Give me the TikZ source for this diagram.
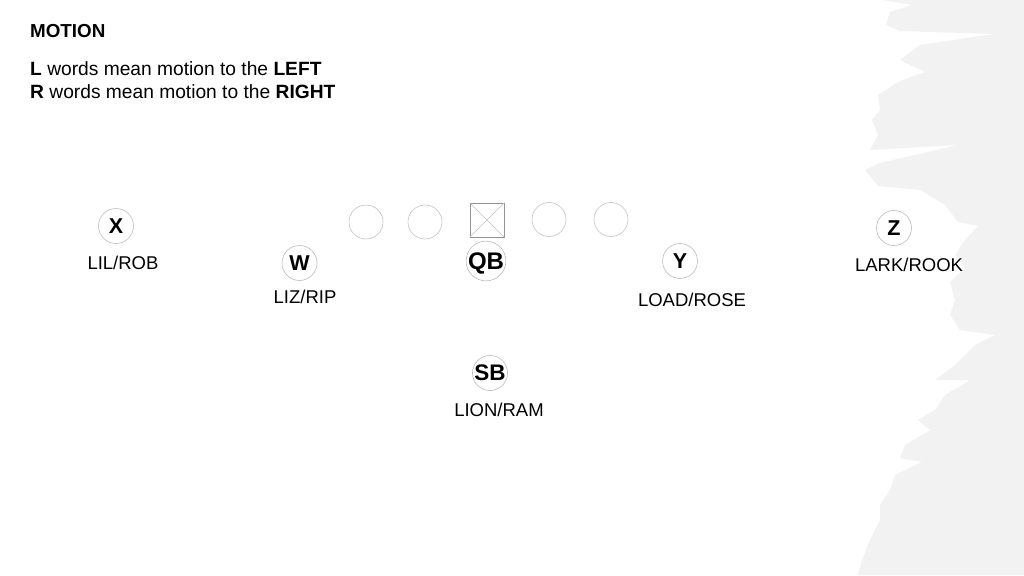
\documentclass[tikz,border=0pt]{standalone}
\usepackage{fontspec}
\setmainfont{Liberation Sans}
\definecolor{brush}{HTML}{F2F2F2}
\definecolor{ring}{HTML}{BDBDBD}
\definecolor{linering}{HTML}{C4C4C4}
\begin{document}
\begin{tikzpicture}[x=1pt,y=-1pt,
  player/.style={circle, draw=ring, line width=0.6pt, minimum size=35pt, inner sep=0pt, font=\bfseries\fontsize{21.5}{21.5}\selectfont},
  lineman/.style={circle, draw=linering, line width=0.6pt, minimum size=34pt, inner sep=0pt},
  centerbox/.style={rectangle, draw=gray!85, line width=0.7pt, minimum size=34pt, inner sep=0pt},
  lbl/.style={font=\fontsize{18.5}{18.5}\selectfont, inner sep=0pt, anchor=center},
  head/.style={font=\fontsize{19.2}{22}\selectfont, inner sep=0pt, anchor=west}]
\fill[white] (0,0) rectangle (1024,575);
\useasboundingbox (0,0) rectangle (1024,575);
% brush stroke background
\fill[brush] (882,0) -- (912,5) -- (890,12) -- (886,25) -- (900,31) -- (994,34) -- (920,45) -- (900,60) -- (925,72) -- (898,82) -- (878,95) -- (880,110) -- (872,120) -- (878,135) -- (870,150) -- (958,145) -- (880,163) -- (865,170) -- (878,186) -- (920,190) -- (945,205) -- (958,222) -- (978,226) -- (965,240) -- (955,255) -- (965,268) -- (950,282) -- (955,300) -- (950,315) -- (960,330) -- (995,335) -- (975,345) -- (955,365) -- (935,380) -- (970,380) -- (945,395) -- (935,410) -- (918,420) -- (930,430) -- (905,445) -- (900,458) -- (922,462) -- (895,475) -- (890,490) -- (880,505) -- (880,520) -- (870,540) -- (862,560) -- (858,575) -- (1024,575) -- (1024,0) -- cycle;
% heading
\node[head, font=\bfseries\fontsize{18.8}{20}\selectfont] (title) at (30,31) {MOTION};
\node[head] (lline) at (30,69) {\textbf{L} words mean motion to the \textbf{LEFT}};
\node[head] (rline) at (30,92) {\textbf{R} words mean motion to the \textbf{RIGHT}};
% offensive line
\node[lineman] (lt) at (366,222) {};
\node[lineman] (lg) at (425,222) {};
\node[centerbox] (c) at (487,220) {};
\draw[linering, line width=0.6pt] (c.north west) -- (c.south east) (c.north east) -- (c.south west);
\node[lineman] (rg) at (549,219.5) {};
\node[lineman] (rt) at (611,219.5) {};
% skill players
\node[player, text depth=0pt, font=\bfseries\fontsize{24}{24}\selectfont] (qb) at (486,261) {QB};
\node[player] (x) at (116,226) {X};
\node[lbl] (xl) at (123,263) {LIL/ROB};
\node[player] (w) at (299.5,263) {W};
\node[lbl] (wl) at (305,297) {LIZ/RIP};
\node[player] (y) at (680,261) {Y};
\node[lbl] (yl) at (692,300) {LOAD/ROSE};
\node[player] (z) at (894,228) {Z};
\node[lbl] (zl) at (909,265) {LARK/ROOK};
\node[player, font=\bfseries\fontsize{22.5}{22.5}\selectfont] (sb) at (490,373) {SB};
\node[lbl] (sbl) at (499,410) {LION/RAM};
\end{tikzpicture}
\end{document}
